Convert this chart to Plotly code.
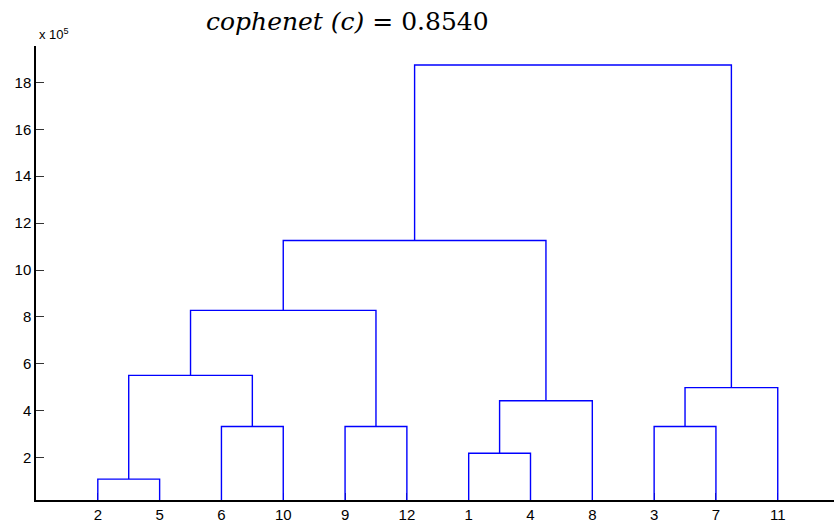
import plotly.graph_objects as go

# Leaf labels in dendrogram order (left to right)
leaf_labels = ["2", "5", "6", "10", "9", "12", "1", "4", "8", "3", "7", "11"]

# Linkage: each merge joins two nodes (leaf labels or earlier cluster ids) at a height (x 10^5)
merge_ids = ["c1", "c2", "c3", "c4", "c5", "c6", "c7", "c8", "c9", "c10", "c11"]
merge_left = ["2", "1", "6", "9", "3", "c2", "c5", "c1", "c8", "c9", "c10"]
merge_right = ["5", "4", "10", "12", "7", "8", "11", "c3", "c4", "c6", "c7"]
merge_height = [1.09, 2.19, 3.33, 3.33, 3.33, 4.43, 4.99, 5.51, 8.28, 11.26, 18.74]

y_ticks = [2, 4, 6, 8, 10, 12, 14, 16, 18]

# Node coordinates in data space
node_x = {lab: i + 1 for i, lab in enumerate(leaf_labels)}
node_y = {lab: 0.0 for lab in leaf_labels}

xs, ys = [], []
for cid, a, b, h in zip(merge_ids, merge_left, merge_right, merge_height):
    xa, ya = node_x[a], node_y[a]
    xb, yb = node_x[b], node_y[b]
    xs += [xa, xa, xb, xb, None]
    ys += [ya, h, h, yb, None]
    node_x[cid] = (xa + xb) / 2
    node_y[cid] = h

fig = go.Figure()
fig.add_trace(go.Scatter(
    x=xs, y=ys, mode="lines",
    line=dict(color="#0000ff", width=1.4),
    hoverinfo="skip", showlegend=False,
))

axis_font = dict(family="Liberation Sans, Arial, sans-serif", size=15, color="#000000")

fig.update_layout(
    width=834, height=523,
    margin=dict(l=36, r=0, t=46, b=20),
    paper_bgcolor="white", plot_bgcolor="white",
    xaxis=dict(
        range=[0, 12.91],
        tickmode="array",
        tickvals=list(range(1, len(leaf_labels) + 1)),
        ticktext=leaf_labels,
        ticks="inside", ticklen=7, tickwidth=1, tickcolor="#333333",
        showline=True, linecolor="#000000", linewidth=1.5,
        showgrid=False, zeroline=False,
        tickfont=axis_font,
        layer="below traces",
    ),
    yaxis=dict(
        range=[0.2, 19.55],
        tickmode="array",
        tickvals=y_ticks,
        ticktext=[str(v) for v in y_ticks],
        ticks="inside", ticklen=8, tickwidth=1, tickcolor="#333333",
        showline=True, linecolor="#000000", linewidth=1.5,
        showgrid=False, zeroline=False,
        tickfont=axis_font,
        layer="below traces",
    ),
)

fig.add_annotation(
    text="<i>cophenet (c)</i> = 0.8540",
    xref="paper", yref="paper", x=0.39, y=1.053,
    xanchor="center", yanchor="middle", showarrow=False,
    font=dict(family="DejaVu Serif, serif", size=25, color="#000000"),
)

fig.add_annotation(
    text="x 10<sup>5</sup>",
    xref="paper", yref="paper", x=0.001, y=1.026,
    xanchor="left", yanchor="middle", showarrow=False,
    font=dict(family="Liberation Sans, Arial, sans-serif", size=13, color="#000000"),
)

fig.write_html("out.html")
